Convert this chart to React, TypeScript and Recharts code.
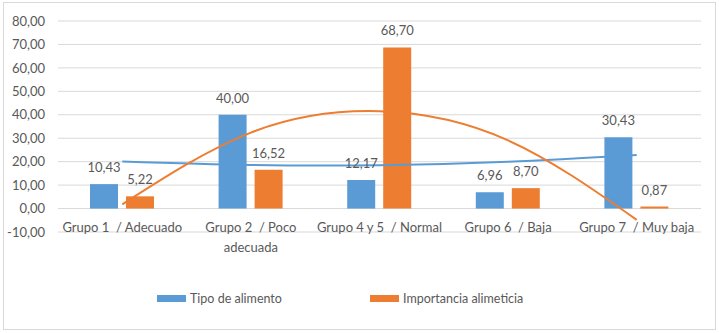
import {
  Bar,
  CartesianGrid,
  ComposedChart,
  LabelList,
  Legend,
  Line,
  XAxis,
  YAxis,
} from "recharts";

const categories = [
  "Grupo 1  / Adecuado",
  "Grupo 2  / Poco\nadecuada",
  "Grupo 4 y 5  / Normal",
  "Grupo 6  / Baja",
  "Grupo 7  / Muy baja",
];
const tipoAlimento = [10.43, 40.0, 12.17, 6.96, 30.43];
const importancia = [5.22, 16.52, 68.7, 8.7, 0.87];
// polynomial trendlines at each group
const tipoTrend = [20.1, 18.6, 18.5, 20.0, 22.9];
const importanciaTrend = [1.8, 32.4, 41.5, 29.1, -4.8];
const yTicks = [-10, 0, 10, 20, 30, 40, 50, 60, 70, 80];

const BLUE = "#5b9bd5";
const ORANGE = "#ed7d31";
const TEXT = "#595959";
const FONT = "Lato, 'Open Sans', sans-serif";

const data = categories.map((c, i) => ({
  name: c,
  tipo: tipoAlimento[i],
  imp: importancia[i],
  tipoTrend: tipoTrend[i],
  impTrend: importanciaTrend[i],
}));

const fmt = (v: number) => Number(v).toFixed(2).replace(".", ",");

function CategoryTick(props: any) {
  const { x, y, payload } = props;
  const lines = String(payload.value).split("\n");
  return (
    <text x={x} y={y} textAnchor="middle" fill={TEXT} fontSize={13} fontFamily={FONT} style={{ whiteSpace: "pre" }}>
      {lines.map((l, i) => (
        <tspan key={i} x={x} dy={i === 0 ? -8 : 20}>
          {l}
        </tspan>
      ))}
    </text>
  );
}

// legend box starts at the chart's left margin (8px), so lefts are relative to that
function LegendContent() {
  const items = [
    { label: "Tipo de alimento", color: BLUE, left: 149 },
    { label: "Importancia alimeticia", color: ORANGE, left: 362 },
  ];
  return (
    <div style={{ position: "relative", height: 20, width: 693 }}>
      {items.map((it) => (
        <div
          key={it.label}
          style={{
            position: "absolute",
            left: it.left,
            top: 0,
            height: 20,
            display: "flex",
            alignItems: "center",
            fontFamily: FONT,
            fontSize: 12.5,
            color: TEXT,
            whiteSpace: "nowrap",
          }}
        >
          <span style={{ display: "inline-block", width: 29, height: 7, background: it.color, marginRight: 4 }} />
          {it.label}
        </div>
      ))}
    </div>
  );
}

export default function App() {
  return (
    <div
      style={{
        position: "absolute",
        left: 0,
        top: 0,
        width: 719,
        height: 333,
        background: "#fff",
      }}
    >
      <div
        style={{
          position: "absolute",
          left: 3,
          top: 2,
          width: 713,
          height: 328,
          border: "1px solid #d9d9d9",
          boxSizing: "border-box",
        }}
      />
      <ComposedChart
        width={719}
        height={333}
        data={data}
        margin={{ top: 21, right: 18, bottom: 25, left: 8 }}
        barSize={28}
        barGap={8}
      >
        <CartesianGrid vertical={false} stroke="#d9d9d9" />
        <XAxis
          dataKey="name"
          axisLine={false}
          tickLine={false}
          height={56}
          interval={0}
          tick={<CategoryTick />}
        />
        <YAxis
          domain={[-10, 80]}
          ticks={yTicks}
          axisLine={false}
          tickLine={false}
          width={50}
          tickMargin={7}
          tickFormatter={fmt}
          tick={{ fill: TEXT, fontSize: 13, fontFamily: FONT }}
        />
        <Legend verticalAlign="bottom" content={<LegendContent />} />
        <Bar dataKey="tipo" fill={BLUE} isAnimationActive={false}>
          <LabelList dataKey="tipo" position="top" offset={12} formatter={fmt} fill={TEXT} fontSize={13} fontFamily={FONT} />
        </Bar>
        <Bar dataKey="imp" fill={ORANGE} isAnimationActive={false}>
          <LabelList dataKey="imp" position="top" offset={12} formatter={fmt} fill={TEXT} fontSize={13} fontFamily={FONT} />
        </Bar>
        <Line type="natural" dataKey="tipoTrend" stroke={BLUE} strokeWidth={2} dot={false} activeDot={false} isAnimationActive={false} />
        <Line type="natural" dataKey="impTrend" stroke={ORANGE} strokeWidth={2} dot={false} activeDot={false} isAnimationActive={false} />
      </ComposedChart>
    </div>
  );
}
